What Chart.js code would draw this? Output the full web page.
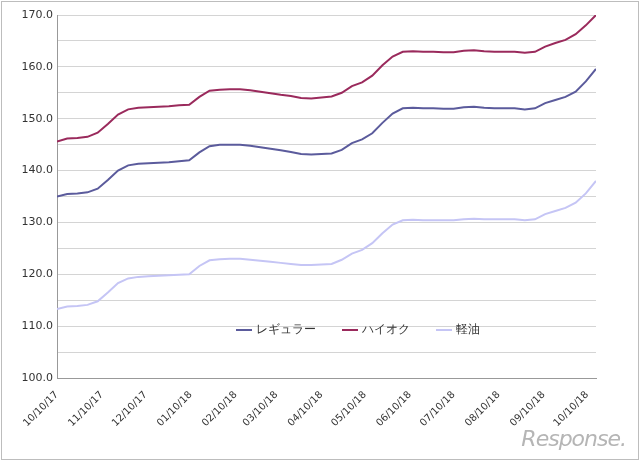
<!DOCTYPE html>
<html><head><meta charset="utf-8">
<script src="https://cdn.jsdelivr.net/npm/chart.js@4"></script>
<style>html,body{margin:0;padding:0;background:#fff}#w{position:relative;width:640px;height:461px}
#b{position:absolute;left:1px;top:1px;width:636px;height:457px;border:1px solid #bdbdbd;box-sizing:content-box;pointer-events:none}
#rs{position:absolute;right:14px;bottom:10px;font:italic 22px "DejaVu Sans";color:#b5b5b5;letter-spacing:-1px}</style>
</head><body><div id="w"><canvas id="c" width="640" height="461"></canvas><div id="b"></div><div id="rs">Response.</div></div>
<script>
const tickLabels=["10/10/17","11/10/17","12/10/17","01/10/18","02/10/18","03/10/18","04/10/18","05/10/18","06/10/18","07/10/18","08/10/18","09/10/18","10/10/18"];
const tickDays=[0,31,61,92,123,151,182,212,243,273,304,335,365];
const regular=[135.0,135.5,135.6,135.8,136.5,138.2,140.0,141.0,141.3,141.4,141.5,141.6,141.8,142.0,143.5,144.7,145.0,145.0,145.0,144.8,144.5,144.2,143.9,143.6,143.2,143.1,143.2,143.3,144.0,145.3,146.0,147.2,149.2,151.0,152.0,152.1,152.0,152.0,151.9,151.9,152.2,152.3,152.1,152.0,152.0,152.0,151.8,152.0,153.0,153.6,154.2,155.2,157.2,159.6];
const highoctane=[145.6,146.2,146.3,146.5,147.3,149.0,150.8,151.8,152.1,152.2,152.3,152.4,152.6,152.7,154.2,155.4,155.6,155.7,155.7,155.5,155.2,154.9,154.6,154.4,154.0,153.9,154.1,154.3,155.0,156.3,157.0,158.3,160.3,162.0,162.9,163.0,162.9,162.9,162.8,162.8,163.1,163.2,163.0,162.9,162.9,162.9,162.7,162.9,163.9,164.6,165.2,166.3,168.0,170.0];
const keiyu=[113.3,113.8,113.9,114.1,114.8,116.5,118.3,119.2,119.5,119.6,119.7,119.8,119.9,120.0,121.6,122.7,122.9,123.0,123.0,122.8,122.6,122.4,122.2,122.0,121.8,121.8,121.9,122.0,122.8,124.0,124.7,126.0,127.9,129.6,130.4,130.5,130.4,130.4,130.4,130.4,130.6,130.7,130.6,130.6,130.6,130.6,130.4,130.6,131.6,132.2,132.8,133.8,135.6,138.0];
const names=["レギュラー","ハイオク","軽油"];
const colors=["#5b5b9c","#9a2a5c","#c5c5f5"];
const toPts=a=>a.map((v,i)=>({x:i*7,y:v}));
const legendPlugin={id:'lg',afterDraw(ch){const c=ch.ctx;c.save();c.font='12px "DejaVu Sans"';c.textBaseline='middle';
 let x=236,y=330;names.forEach((n,i)=>{c.strokeStyle=colors[i];c.lineWidth=2;c.beginPath();c.moveTo(x,y);c.lineTo(x+16,y);c.stroke();
 c.fillStyle='#333';c.fillText(n,x+20,y);x+=20+c.measureText(n).width+26;});c.restore();}};
new Chart(document.getElementById('c'),{type:'line',
 data:{datasets:[regular,highoctane,keiyu].map((d,i)=>({label:names[i],data:toPts(d),borderColor:colors[i],borderWidth:2,pointRadius:0,tension:0}))},
 options:{responsive:false,animation:false,layout:{padding:{top:15,right:44,bottom:23,left:0}},
  plugins:{legend:{display:false},tooltip:{enabled:false}},
  scales:{
   x:{type:'linear',min:0,max:371,grid:{display:false},border:{color:'#999'},
     afterBuildTicks(s){s.ticks=tickDays.map(v=>({value:v}));},
     afterFit(s){s.height=60;},
     ticks:{autoSkip:false,minRotation:45,maxRotation:45,color:'#333',font:{size:10,family:'DejaVu Sans'},
       callback:(v)=>{const k=tickDays.indexOf(v);return k>=0?tickLabels[k]:'';}}},
   y:{min:100,max:170,afterFit(s){s.width=57;},border:{color:'#999'},
     grid:{color:'#d4d4d4',drawTicks:false},
     ticks:{stepSize:5,padding:4,color:'#333',font:{size:11,family:'DejaVu Sans'},callback:v=>v%10===0?v.toFixed(1):''}}}},
 plugins:[legendPlugin]});
</script></body></html>
